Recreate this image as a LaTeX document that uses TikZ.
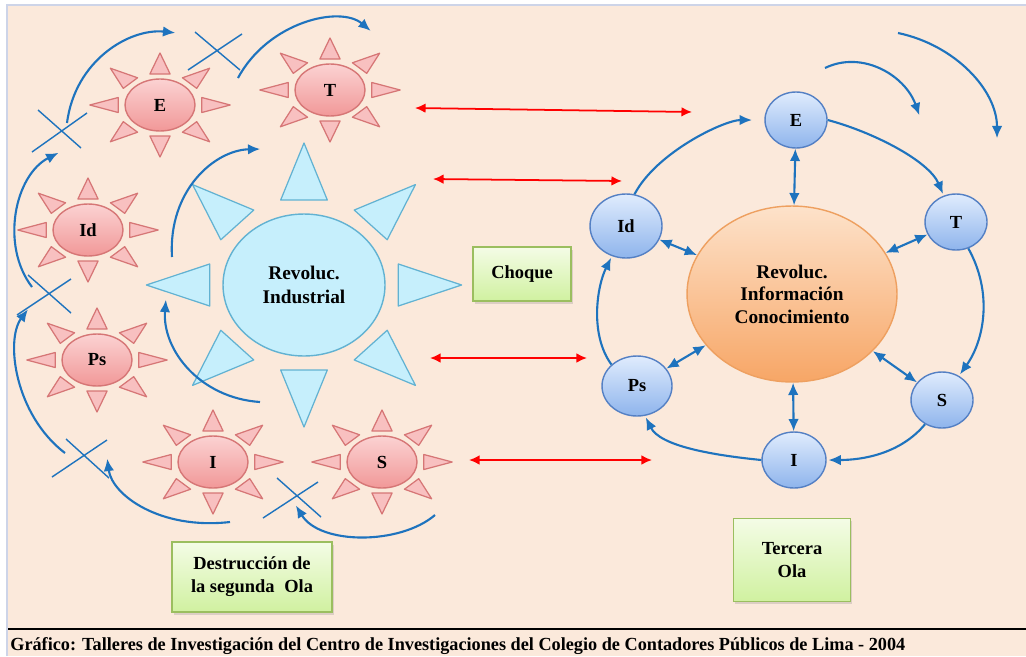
\documentclass[tikz,border=0pt]{standalone}
\usepackage{fontspec}
\setmainfont{Liberation Serif}
\usepackage{graphicx}
\usetikzlibrary{shapes.geometric,shadows,arrows.meta}

\definecolor{peach}{RGB}{251,233,219}
\definecolor{frameline}{RGB}{205,212,232}
\definecolor{flowblue}{RGB}{30,115,190}
\definecolor{pinkline}{RGB}{214,118,118}
\definecolor{pinktop}{RGB}{251,210,210}
\definecolor{pinkbot}{RGB}{241,152,152}
\definecolor{raypink}{RGB}{248,192,192}
\definecolor{skyfill}{RGB}{198,239,252}
\definecolor{skyline}{RGB}{98,178,210}
\definecolor{balltop}{RGB}{224,236,253}
\definecolor{ballbot}{RGB}{142,180,236}
\definecolor{ballline}{RGB}{84,128,196}
\definecolor{orangetop}{RGB}{253,226,202}
\definecolor{orangebot}{RGB}{247,166,102}
\definecolor{orangeline}{RGB}{238,160,96}
\definecolor{greentop}{RGB}{244,252,230}
\definecolor{greenbot}{RGB}{208,241,160}
\definecolor{greenline}{RGB}{155,190,95}

\begin{document}
\begin{tikzpicture}[x=0.02cm,y=-0.02cm,>={Latex[length=7pt,width=6pt]},
  pinkell/.style={ellipse, draw=pinkline, line width=0.8pt, top color=pinktop, bottom color=pinkbot,
    inner sep=0pt, minimum width=1.4cm, minimum height=1.04cm, font=\bfseries\fontsize{10.5}{12}\selectfont},
  pinkray/.style={draw=pinkline, fill=raypink, line width=0.7pt, line join=round},
  skyray/.style={draw=skyline, fill=skyfill, line width=0.7pt, line join=round},
  ball/.style={ellipse, draw=ballline, line width=0.8pt, top color=balltop, bottom color=ballbot,
    inner sep=0pt, minimum width=1.24cm, minimum height=1.12cm, font=\bfseries\fontsize{10.5}{12}\selectfont},
  greenbox/.style={rectangle, draw=greenline, line width=0.8pt, top color=greentop, bottom color=greenbot,
    align=center, inner sep=2pt, font=\bfseries\fontsize{10.5}{13}\selectfont,
    drop shadow={opacity=0.25, shadow xshift=1pt, shadow yshift=-1.5pt}},
  flow/.style={->, draw=flowblue, line width=1.2pt, shorten >=1pt},
  both/.style={<->, draw=flowblue, line width=1.2pt},
  clash/.style={{Latex[length=6pt,width=5.5pt]}-{Latex[length=6pt,width=5.5pt]}, draw=red, line width=1pt},
  cut/.style={draw=flowblue, line width=0.8pt}]

\useasboundingbox (0,0) rectangle (1026,656);
\fill[white] (0,0) rectangle (1026,656);
\fill[peach] (8,6) rectangle (1026,656);
\draw[frameline, line width=0.8pt] (7,656) -- (7,5) -- (1026,5);
\draw[black, line width=1.2pt] (8,629) -- (1026,629);

% segunda ola
\node[ellipse, draw=skyline, fill=skyfill, line width=0.8pt, inner sep=0pt, minimum width=3.24cm, minimum height=2.84cm,
  align=center, font=\bfseries\fontsize{11}{13.5}\selectfont] (RI) at (304,285) {Revoluc.\\Industrial};
\foreach \a in {0,45,...,315}
  \draw[skyray, shift={(RI)}, xscale=1.11, rotate=\a] (85,21) -- (142,0) -- (85,-21) -- cycle;

\node[pinkell] (E) at (160,105) {E};
\node[pinkell] (T) at (330,90) {T};
\node[pinkell] (Id) at (88,230) {Id};
\node[pinkell] (Ps) at (97,360) {Ps};
\node[pinkell] (I) at (213,462) {I};
\node[pinkell] (S) at (382,462) {S};
\foreach \s in {E,T,Id,Ps,I,S}
  \foreach \a in {0,45,...,315}
    \draw[pinkray, shift={(\s)}, xscale=1.35, rotate=\a] (31,7.5) -- (52,0) -- (31,-7.5) -- cycle;

\coordinate (w1s) at (32,287);  \coordinate (w1e) at (60,152);
\coordinate (w2s) at (67,123);  \coordinate (w2e) at (177,33);
\coordinate (w3s) at (238,78);  \coordinate (w3e) at (372,32);
\coordinate (w4s) at (172,257); \coordinate (w4e) at (262,149);
\coordinate (w5s) at (65,453);  \coordinate (w5e) at (29,308);
\coordinate (w6s) at (230,522); \coordinate (w6e) at (107,457);
\coordinate (w7s) at (435,515); \coordinate (w7e) at (295,504);
\coordinate (w8s) at (260,402); \coordinate (w8e) at (166,298);

\draw[flow] (w1s) .. controls (0,245) and (15,175) .. (w1e);
\draw[flow] (w2s) .. controls (75,60) and (130,28) .. (w2e);
\draw[flow] (w3s) .. controls (268,22) and (340,5) .. (w3e);
\draw[flow] (w4s) .. controls (168,190) and (215,150) .. (w4e);
\draw[flow] (w5s) .. controls (15,415) and (5,340) .. (w5e);
\draw[flow] (w6s) .. controls (160,530) and (112,495) .. (w6e);
\draw[flow] (w7s) .. controls (400,545) and (320,545) .. (w7e);
\draw[flow] (w8s) .. controls (200,398) and (162,350) .. (w8e);

\draw[cut] (32,152) -- (87,113) (38,110) -- (81,148);
\draw[cut] (188,70) -- (242,34) (195,32) -- (240,70);
\draw[cut] (17,315) -- (71,279) (28,275) -- (71,313);
\draw[cut] (52,477) -- (107,440) (66,439) -- (109,478);
\draw[cut] (263,518) -- (318,482) (277,478) -- (321,517);

\node[greenbox, minimum width=3.2cm, minimum height=1.4cm] (dest) at (252,577) {Destrucción de\\la segunda\; Ola};
\node[greenbox, minimum width=1.96cm, minimum height=1.08cm] (choque) at (522,274) {Choque};

% tercera ola
\node[ellipse, draw=orangeline, line width=0.8pt, top color=orangetop, bottom color=orangebot, inner sep=0pt,
  minimum width=4.2cm, minimum height=3.52cm, align=center, font=\bfseries\fontsize{11}{12.8}\selectfont]
  (RIC) at (792,294) {Revoluc.\\Información\\Conocimiento};

\node[ball] (E2) at (796,120) {E};
\node[ball, minimum width=1.44cm, minimum height=1.28cm] (Id2) at (626,226) {Id};
\node[ball] (T2) at (956,222) {T};
\node[ball, minimum width=1.4cm, minimum height=1.2cm] (Ps2) at (637,386) {Ps};
\node[ball] (S2) at (942,400) {S};
\node[ball, minimum width=1.28cm] (I2) at (794,460) {I};

\draw[flow, shorten >=7pt] (Id2.75) .. controls +(22,-42) and +(-40,0) .. (E2.west);
\draw[flow] (E2.east) .. controls +(45,12) and +(-15,-35) .. (T2.115);
\draw[flow] (T2.-65) .. controls +(25,45) and +(25,-35) .. (S2.55);
\draw[flow] (S2.-125) .. controls +(-25,30) and +(35,0) .. (I2.east);
\draw[flow] (I2.west) .. controls +(-50,-5) and +(15,30) .. (Ps2.-75);
\draw[flow] (Ps2.140) .. controls +(-22,-30) and +(-15,30) .. (Id2.-115);

\foreach \b in {E2,Id2,T2,Ps2,S2,I2}
  \draw[both] (\b) -- (RIC);

\coordinate (v1s) at (825,68);  \coordinate (v1e) at (920,117);
\coordinate (v2s) at (898,33);  \coordinate (v2e) at (997,140);
\draw[flow] (v1s) .. controls (862,50) and (905,75) .. (v1e);
\draw[flow] (v2s) .. controls (955,45) and (997,90) .. (v2e);

\node[greenbox, minimum width=2.34cm, minimum height=1.66cm] (tercera) at (792,560) {Tercera\\Ola};

% choque entre olas
\coordinate (c1a) at (415,108); \coordinate (c1b) at (692,112);
\coordinate (c2a) at (433,179); \coordinate (c2b) at (622,181);
\coordinate (c3a) at (430,358); \coordinate (c3b) at (587,358);
\coordinate (c4a) at (469,460); \coordinate (c4b) at (652,460);
\draw[clash] (c1a) -- (c1b);
\draw[clash] (c2a) -- (c2b);
\draw[clash] (c3a) -- (c3b);
\draw[clash] (c4a) -- (c4b);

\node[anchor=base west, inner sep=0pt] (fuente) at (10,650)
  {\resizebox{17.9cm}{\height}{\bfseries\fontsize{10.5}{12}\selectfont Gráfico: Talleres de Investigación del Centro de Investigaciones del Colegio de Contadores Públicos de Lima - 2004}};
\end{tikzpicture}
\end{document}
